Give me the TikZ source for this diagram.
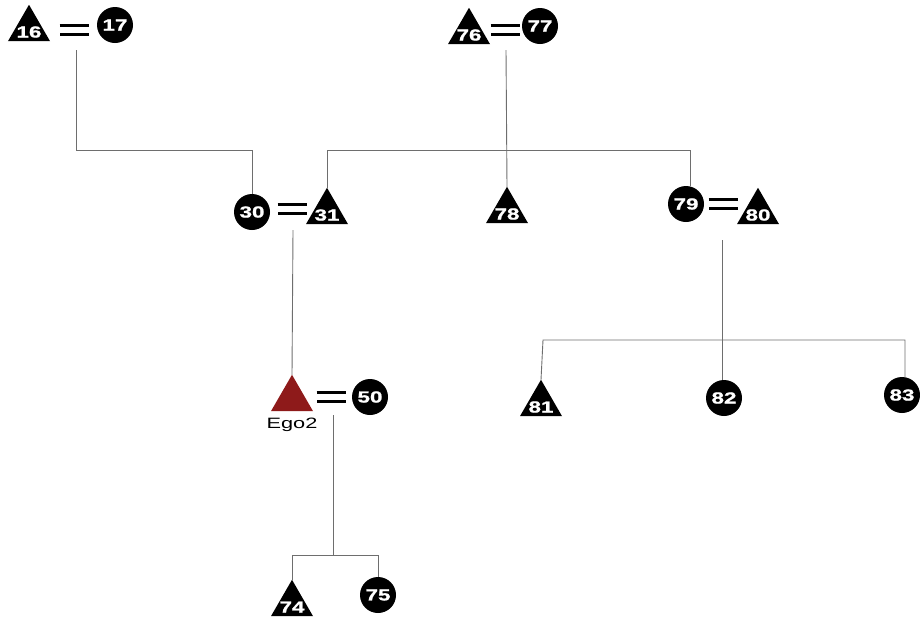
\documentclass[tikz,border=0pt]{standalone}
\usepackage{fontspec}
\setmainfont{Liberation Sans}
\newfontfamily\numfont[FakeStretch=1.4,FakeBold=1.2]{Liberation Sans Bold}
\newfontfamily\egofont[FakeStretch=1.45]{Liberation Sans}
\usetikzlibrary{shapes.geometric}
\definecolor{egored}{RGB}{142,26,26}
\definecolor{linegray}{RGB}{110,110,110}
\tikzset{
  male/.style={regular polygon, regular polygon sides=3, minimum size=48.5pt, inner sep=0pt, outer sep=0pt, fill=black},
  tlab/.style={text=white, font=\numfont\fontsize{16}{16}\selectfont, inner sep=0pt, yshift=-3pt},
  female/.style={circle, minimum size=36pt, inner sep=0pt, outer sep=0pt, fill=black, text=white, font=\numfont\fontsize{16}{16}\selectfont},
  ego/.style={male, fill=egored},
  eqsign/.style={minimum width=29pt, minimum height=11pt, inner sep=0pt, outer sep=0pt},
  eqline/.style={draw=black, line width=3pt, double=white, double distance=5.5pt},
  kin/.style={draw=linegray, line width=0.9pt},
  egolabel/.style={font=\egofont\fontsize{15}{15}\selectfont, inner sep=0pt}
}
\begin{document}
\begin{tikzpicture}[x=1pt,y=-1pt]
\useasboundingbox (0,0) rectangle (920,619);
% generation 1
\node[male, label={[tlab]center:16}] (n16) at (29,29) {};
\node[eqsign] (e16) at (74,30) {};
\node[female] (n17) at (115,25) {17};
\node[male, label={[tlab]center:76}] (n76) at (469,32) {};
\node[eqsign] (e76) at (505,30) {};
\node[female] (n77) at (540,26) {77};
% generation 2
\node[female] (n30) at (252,212) {30};
\node[eqsign] (e30) at (292,209) {};
\node[male, label={[tlab]center:31}] (n31) at (327,212) {};
\node[male, label={[tlab]center:78}] (n78) at (507,211) {};
\node[female] (n79) at (686,204) {79};
\node[eqsign] (e79) at (723,204) {};
\node[male, label={[tlab]center:80}] (n80) at (758,212) {};
% generation 3
\node[ego] (ego) at (292,399) {};
\node[egolabel] (egolab) at (292,425) {Ego2};
\node[eqsign] (e50) at (331,397) {};
\node[female] (n50) at (370,397) {50};
\node[male, label={[tlab]center:81}] (n81) at (541,404) {};
\node[female] (n82) at (724,398) {82};
\node[female] (n83) at (902,395) {83};
% generation 4
\node[male, label={[tlab]center:74}] (n74) at (292,604) {};
\node[female] (n75) at (378,595) {75};
% equals signs
\foreach \e in {e16,e76,e30,e79,e50}{
  \draw[eqline] (\e.west) -- (\e.east);
}
% descent line anchors
\coordinate (d16) at (76,50);
\coordinate (d76) at (506,50);
\coordinate (d30) at (293,230);
\coordinate (d79) at (722,240);
\coordinate (d50) at (333,415);
\coordinate (s16) at (76,150);
\coordinate (s76a) at (327,150);
\coordinate (s76b) at (690,150);
\coordinate (s79a) at (543,340);
\coordinate (s79b) at (905,340);
\coordinate (s50a) at (292,555);
\coordinate (s50b) at (378,555);
% connectors
\draw[kin] (d16) -- (s16) -| (n30.north);
\draw[kin] (d76) -- (n78.corner 1);
\draw[kin] (n31.corner 1) -- (s76a) -- (s76b) -- (n79.north -| s76b);
\draw[kin] (d30) -- (ego.corner 1);
\draw[kin] (d79) -- (d79 |- s79a);
\draw[kin] (n81.corner 1) -- (s79a) -- (s79b) -- (n83.north -| s79b);
\draw[kin] (s79a -| d79) -- (n82.north -| d79);
\draw[kin] (d50) -- (d50 |- s50a);
\draw[kin] (n74.corner 1) -- (s50a) -- (s50b) -- (n75.north);
\end{tikzpicture}
\end{document}
